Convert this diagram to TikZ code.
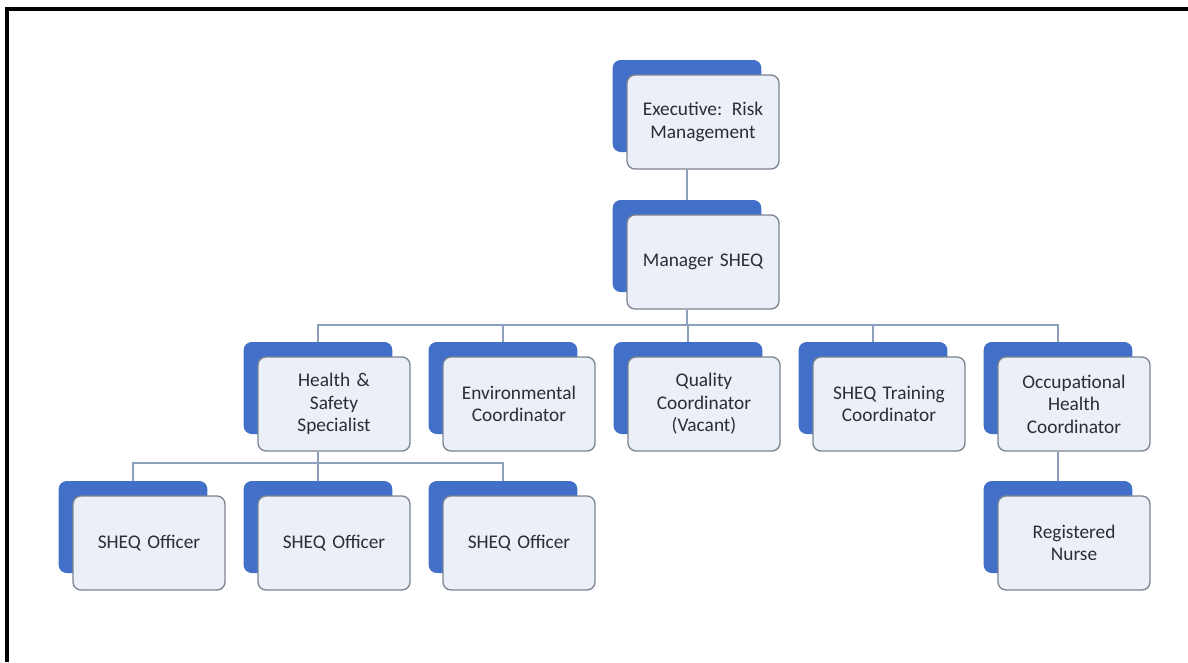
\documentclass[tikz,border=0pt]{standalone}
\usepackage{fontspec}
\setmainfont{Carlito}
\usepackage{tikz}

\definecolor{sheqblue}{RGB}{66,112,200}
\definecolor{boxfill}{RGB}{234,239,248}
\definecolor{boxline}{RGB}{125,132,145}
\definecolor{linkcol}{RGB}{140,160,190}
\definecolor{txtcol}{RGB}{45,45,50}

\tikzset{
  backbox/.style={fill=sheqblue, rounded corners=6pt, minimum width=111.5pt, minimum height=69pt, inner sep=0pt},
  frontbox/.style={fill=boxfill, draw=boxline, line width=1pt, rounded corners=6pt, minimum width=114pt, minimum height=70.5pt,
    inner sep=2pt, text width=110pt, align=center, text=txtcol, font=\fontsize{14.5}{16.8}\selectfont},
  link/.style={draw=linkcol, line width=1.1pt}
}

\newcommand{\orgbox}[4]{%
  \node[backbox] (#1b) at (#2,#3) {};
  \node[frontbox] (#1) at (#2+16,#3+16) {#4};
}

\begin{document}
\begin{tikzpicture}[x=0.75pt,y=-0.75pt]
        \useasboundingbox (0,0) rectangle (1188,662);
        \draw[line width=2.3pt] (7,662) -- (7,9) -- (1190,9);

        % top of the chart
        \orgbox{exec}{687}{106}{Executive: Risk\\Management}
        \orgbox{mgr}{687}{246}{Manager SHEQ}

        % second row
        \orgbox{hs}{318}{388}{Health \&\\Safety\\Specialist}
        \orgbox{env}{503}{388}{Environmental\\Coordinator}
        \orgbox{qc}{688}{388}{Quality\\Coordinator\\(Vacant)}
        \orgbox{tr}{873}{388}{SHEQ Training\\Coordinator}
        \orgbox{ohc}{1058}{388}{Occupational\\Health\\Coordinator}

        % third row
        \orgbox{offa}{133}{527}{SHEQ Officer}
        \orgbox{offb}{318}{527}{SHEQ Officer}
        \orgbox{offc}{503}{527}{SHEQ Officer}
        \orgbox{rn}{1058}{527}{Registered\\Nurse}

        % connectors
        \coordinate (busa) at (0,325);
        \coordinate (busb) at (0,463);
        \draw[link] (execb.center |- exec.south) -- (mgrb.north);
        \draw[link] (mgrb.center |- mgr.south) -- (mgrb.center |- busa);
        \draw[link] (hsb.north) -- (hsb.north |- busa) -- (ohcb.north |- busa) -- (ohcb.north);
        \foreach \n in {envb,qcb,trb}
                \draw[link] (\n.north) -- (\n.north |- busa);
        \draw[link] (hsb.center |- hs.south) -- (hsb.center |- busb);
        \draw[link] (offab.north) -- (offab.north |- busb) -- (offcb.north |- busb) -- (offcb.north);
        \draw[link] (offbb.north) -- (offbb.north |- busb);
        \draw[link] (ohcb.center |- ohc.south) -- (rnb.north);
\end{tikzpicture}
\end{document}
